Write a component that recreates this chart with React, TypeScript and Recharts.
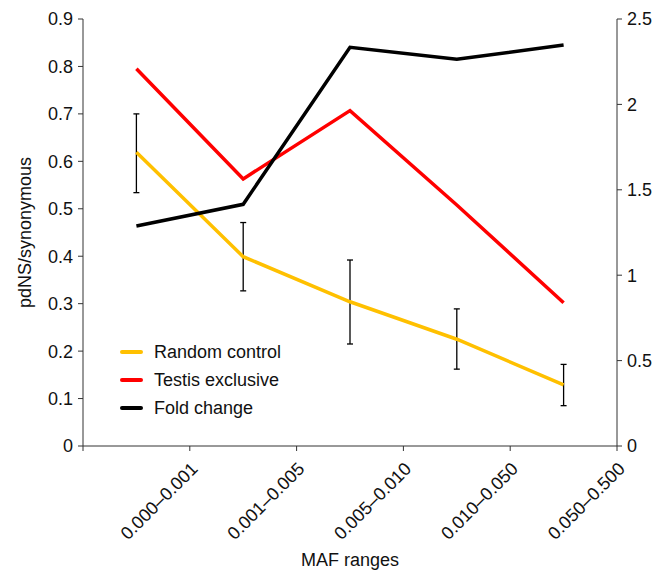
import React from 'react';
import { LineChart, Line, XAxis, YAxis, ErrorBar, Legend } from 'recharts';

const categories = ['0.000–0.001', '0.001–0.005', '0.005–0.010', '0.010–0.050', '0.050–0.500'];
const randomControl = [0.619, 0.399, 0.304, 0.225, 0.129];
const randomLow = [0.534, 0.327, 0.215, 0.162, 0.085];
const randomHigh = [0.700, 0.471, 0.392, 0.289, 0.172];
const testisExclusive = [0.795, 0.563, 0.707, 0.508, 0.302];
const foldChange = [1.288, 1.415, 2.334, 2.264, 2.348];
const seriesNames = ['Random control', 'Testis exclusive', 'Fold change'];
const leftTicks = [0, 0.1, 0.2, 0.3, 0.4, 0.5, 0.6, 0.7, 0.8, 0.9];
const rightTicks = [0, 0.5, 1, 1.5, 2, 2.5];
const xTicks = [0, 1, 2, 3, 4, 5];

const data = categories.map((c, i) => ({
  x: i + 0.5,
  category: c,
  random: randomControl[i],
  randomErr: [randomControl[i] - randomLow[i], randomHigh[i] - randomControl[i]],
  testis: testisExclusive[i],
  fold: foldChange[i],
}));

const FONT = '"Liberation Sans", Arial, Helvetica, sans-serif';
const AXIS = '#333';
const FS = 18;

const XTick = (props: any) => {
  const { x, y, payload } = props;
  const v = payload.value;
  if (v < 1) return null;
  const ax = x + 9;
  const ay = y + 17;
  return (
    <text
      x={ax}
      y={ay}
      textAnchor="end"
      transform={`rotate(-45, ${ax}, ${ay})`}
      fontSize={FS}
      fontFamily={FONT}
      fill="#111"
    >
      {categories[v - 1]}
    </text>
  );
};

const renderLegend = (props: any) => {
  const payload = [...(props.payload || [])].sort(
    (a: any, b: any) => seriesNames.indexOf(a.value) - seriesNames.indexOf(b.value)
  );
  return (
    <svg width={220} height={80} style={{ display: 'block' }}>
      {payload.map((e: any, i: number) => (
        <g key={i}>
          <line x1={2} x2={21} y1={10 + 28 * i} y2={10 + 28 * i} stroke={e.color} strokeWidth={4} strokeLinecap="round" />
          <text x={34} y={10 + 28 * i} dy="0.36em" fontSize={FS} fontFamily={FONT} fill="#111">
            {e.value}
          </text>
        </g>
      ))}
    </svg>
  );
};

export default function App() {
  return (
    <div style={{ position: 'absolute', left: 0, top: 0, background: '#fff' }}>
      <LineChart width={667} height={570} data={data} margin={{ top: 19, right: 0, left: 0, bottom: 0 }}>
        <XAxis
          dataKey="x"
          type="number"
          domain={[0, 5]}
          ticks={xTicks}
          interval={0}
          height={124}
          tickSize={5}
          stroke={AXIS}
          tick={<XTick />}
          label={{ value: 'MAF ranges', position: 'insideBottom', offset: 4, fontSize: FS, fontFamily: FONT, fill: '#111' }}
        />
        <YAxis
          yAxisId="left"
          domain={[0, 0.9]}
          ticks={leftTicks}
          interval={0}
          width={83}
          tickSize={5}
          tickMargin={5}
          stroke={AXIS}
          tick={{ fontSize: FS, fontFamily: FONT, fill: '#111' }}
          tickFormatter={(v: number) => (v === 0 ? '0' : v.toFixed(1))}
          label={{ value: 'pdNS/synonymous', angle: -90, position: 'insideLeft', offset: 25, fontSize: FS, fontFamily: FONT, fill: '#111', style: { textAnchor: 'middle' } }}
        />
        <YAxis
          yAxisId="right"
          orientation="right"
          domain={[0, 2.5]}
          ticks={rightTicks}
          interval={0}
          width={50}
          tickSize={5}
          tickMargin={5}
          stroke={AXIS}
          tick={{ fontSize: FS, fontFamily: FONT, fill: '#111' }}
        />
        <Legend
          layout="vertical"
          align="center"
          verticalAlign="middle"
          content={renderLegend}
          wrapperStyle={{ left: 120, top: 342, width: 220 }}
        />
        <Line
          yAxisId="left"
          dataKey="random"
          name={seriesNames[0]}
          stroke="#FFC000"
          strokeWidth={3.5}
          dot={false}
          activeDot={false}
          isAnimationActive={false}
        >
          <ErrorBar dataKey="randomErr" direction="y" width={3} stroke="#000" strokeWidth={1.3} isAnimationActive={false} />
        </Line>
        <Line
          yAxisId="left"
          dataKey="testis"
          name={seriesNames[1]}
          stroke="#FF0000"
          strokeWidth={3.5}
          dot={false}
          activeDot={false}
          isAnimationActive={false}
        />
        <Line
          yAxisId="right"
          dataKey="fold"
          name={seriesNames[2]}
          stroke="#000000"
          strokeWidth={3.5}
          dot={false}
          activeDot={false}
          isAnimationActive={false}
        />
      </LineChart>
    </div>
  );
}
